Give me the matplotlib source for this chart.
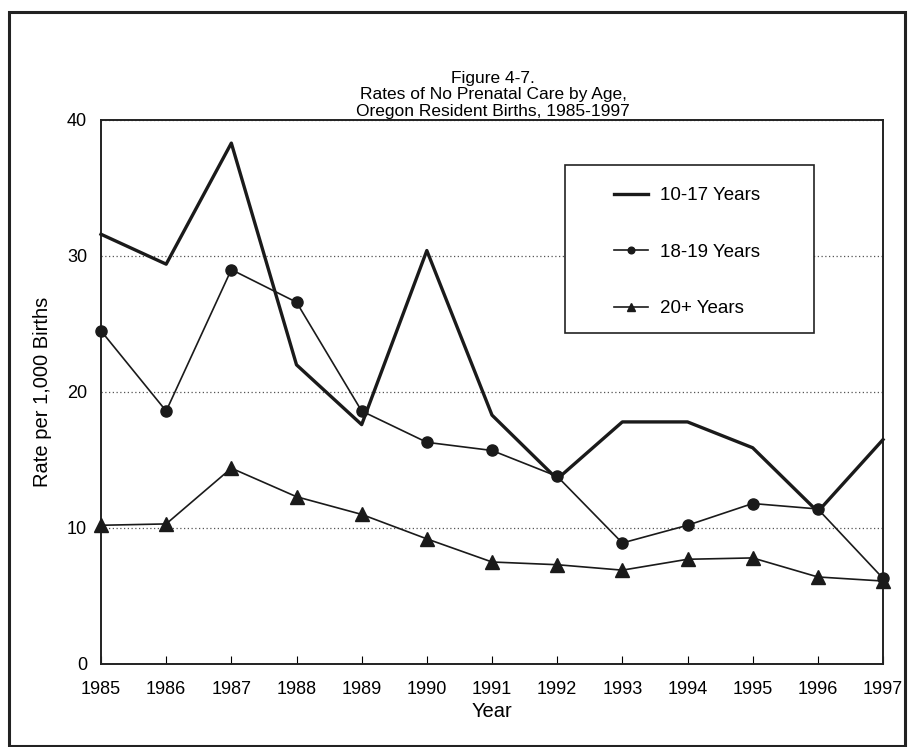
import numpy as np
import matplotlib
matplotlib.use("Agg")
import matplotlib.pyplot as plt
from matplotlib.patches import Rectangle

plt.rcParams['font.family'] = ['Liberation Sans', 'DejaVu Sans']

# Data
years = [1985, 1986, 1987, 1988, 1989, 1990, 1991, 1992, 1993, 1994, 1995, 1996, 1997]
age_10_17 = [31.6, 29.4, 38.3, 22.0, 17.6, 30.4, 18.3, 13.6, 17.8, 17.8, 15.9, 11.2, 16.5]
age_18_19 = [24.5, 18.6, 29.0, 26.6, 18.6, 16.3, 15.7, 13.8, 8.9, 10.2, 11.8, 11.4, 6.3]
age_20_plus = [10.2, 10.3, 14.4, 12.3, 11.0, 9.2, 7.5, 7.3, 6.9, 7.7, 7.8, 6.4, 6.1]
labels = ["10-17 Years", "18-19 Years", "20+ Years"]

W, H = 908, 747
fig = plt.figure(figsize=(W/100, H/100), dpi=100)
ax = fig.add_axes([101/W, 1 - 664/H, 782/W, 544/H])

# outer frame around the whole figure
fig.patches.append(Rectangle((9/W, 1/H), 896/W, 734/H, transform=fig.transFigure,
                             fill=False, edgecolor='#222222', linewidth=2.2))

ax.plot(years, age_10_17, color='#1a1a1a', lw=2.4, label=labels[0], clip_on=False, zorder=3)
ax.plot(years, age_18_19, color='#1a1a1a', lw=1.2, marker='o', ms=8, label=labels[1],
        clip_on=False, zorder=4)
ax.plot(years, age_20_plus, color='#1a1a1a', lw=1.2, marker='^', ms=10, label=labels[2],
        clip_on=False, zorder=4)

ax.set_xlim(1985, 1997)
ax.set_ylim(0, 40)
ax.set_xticks(years)
ax.set_yticks([0, 10, 20, 30, 40])
ax.yaxis.grid(True, linestyle=(0, (1, 2)), color='#555555', linewidth=0.9)
ax.set_axisbelow(True)
ax.tick_params(axis='x', direction='in', length=6, width=0.8, labelsize=13, pad=12)
ax.tick_params(axis='y', length=0, labelsize=13, pad=10)
for s in ax.spines.values():
    s.set_linewidth(1.4)
    s.set_color('#222222')

ax.set_xlabel("Year", fontsize=14.5, labelpad=3)
ax.set_ylabel("Rate per 1,000 Births", fontsize=14.5, labelpad=11)
fig.text(493/W, 1 - 71/H, "Figure 4-7.\nRates of No Prenatal Care by Age,\nOregon Resident Births, 1985-1997",
         ha='center', va='top', fontsize=12.5, linespacing=1.12)

# legend box (white, hides the grid behind it)
bx0, bx1, by0, by1 = 565, 814, 165, 333
ax.add_patch(Rectangle(((bx0-101)/782, (664-by1)/544), (bx1-bx0)/782, (by1-by0)/544,
                       transform=ax.transAxes, facecolor='white', edgecolor='#222222',
                       linewidth=1.2, zorder=6, clip_on=False))
leg = ax.legend(loc='center', bbox_to_anchor=(((bx0+bx1)/2 - 103)/782, (664 - (by0+by1)/2 - 3)/544),
                frameon=False, fontsize=13.5, markerscale=0.6,
                labelspacing=2.1, handlelength=1.8, handletextpad=0.65,
                borderpad=0, borderaxespad=0)
leg.set_zorder(7)

fig.savefig("out.png", dpi=100)
